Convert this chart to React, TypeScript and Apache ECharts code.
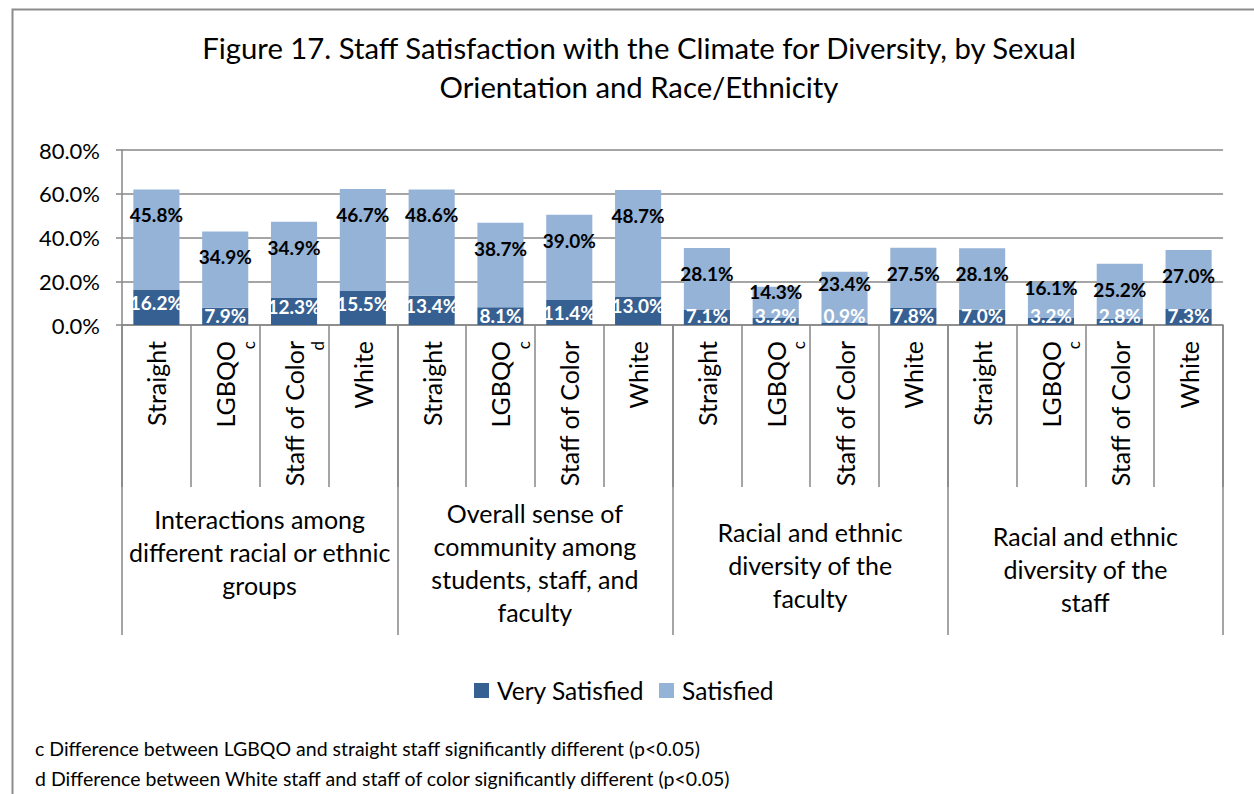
import React, { useEffect, useRef } from "react";
import * as echarts from "echarts";

const subgroups = [
  "Straight", "LGBQO", "Staff of Color", "White",
  "Straight", "LGBQO", "Staff of Color", "White",
  "Straight", "LGBQO", "Staff of Color", "White",
  "Straight", "LGBQO", "Staff of Color", "White",
];
const notes = ["", "c", "d", "", "", "c", "", "", "", "c", "", "", "", "c", "", ""];
const groups = [
  "Interactions among\ndifferent racial or ethnic\ngroups",
  "Overall sense of\ncommunity among\nstudents, staff, and\nfaculty",
  "Racial and ethnic\ndiversity of the\nfaculty",
  "Racial and ethnic\ndiversity of the\nstaff",
];
const verySatisfied = [16.2, 7.9, 12.3, 15.5, 13.4, 8.1, 11.4, 13.0, 7.1, 3.2, 0.9, 7.8, 7.0, 3.2, 2.8, 7.3];
const satisfied = [45.8, 34.9, 34.9, 46.7, 48.6, 38.7, 39.0, 48.7, 28.1, 14.3, 23.4, 27.5, 28.1, 16.1, 25.2, 27.0];
const seriesNames = ["Very Satisfied", "Satisfied"];
const titleText = "Figure 17. Staff Satisfaction with the Climate for Diversity, by Sexual\nOrientation and Race/Ethnicity";
const footnotes = [
  "c Difference between LGBQO and straight staff significantly different (p<0.05)",
  "d Difference between White staff and staff of color significantly different (p<0.05)",
];

const FONT = "Lato";
const GRAY = "#878787";
const DARK = "#376092";
const LIGHT = "#95B3D7";
// spacer style keys used to nudge each group label vertically like the original
const groupSpacer = ["after26", "after6", "", "before8"];

export default function App() {
  const ref = useRef<HTMLDivElement>(null);
  useEffect(() => {
    if (!ref.current) return;
    const chart = echarts.init(ref.current, null, { renderer: "svg" });
    const fmt = (p: any) => `${Number(p.value).toFixed(1)}%`;
    const darkData = verySatisfied.map((v) => {
      let label: any;
      if (v >= 12) label = { position: "inside", offset: [0, -5] };
      else if (v >= 8.5) label = { position: "inside" };
      else label = { position: "insideBottom", distance: 0 };
      return { value: v, label };
    });
    const lightData = satisfied.map((v) => {
      let distance = 16;
      if (v < 20) distance = -5;
      else if (v < 25) distance = 2;
      return { value: v, label: { position: "insideTop", distance } };
    });
    chart.setOption({
      animation: false,
      textStyle: { fontFamily: FONT },
      title: {
        text: titleText,
        left: 634,
        top: 23,
        textAlign: "center",
        textStyle: { fontFamily: FONT, fontSize: 29.3, fontWeight: "normal", color: "#000", lineHeight: 39 },
      },
      legend: {
        data: seriesNames,
        left: 469,
        top: 673,
        itemWidth: 15,
        itemHeight: 15,
        itemGap: 15,
        icon: "rect",
        textStyle: { fontFamily: FONT, fontSize: 24.5, color: "#000", padding: [0, 0, 0, 3] },
      },
      grid: { left: 122, right: 31, top: 150, bottom: 469, containLabel: false },
      xAxis: [
        {
          type: "category",
          data: subgroups,
          position: "bottom",
          axisLine: { show: true, lineStyle: { color: GRAY, width: 1.5 } },
          axisTick: { show: true, interval: 0, length: 162, lineStyle: { color: GRAY, width: 1.5 } },
          axisLabel: {
            interval: 0,
            rotate: 90,
            margin: 16,
            fontFamily: FONT,
            fontSize: 25,
            color: "#000",
            lineHeight: 30,
            formatter: (value: string, index: number) =>
              notes[index] ? `{e| }\n${value}\n{s|${notes[index]}}` : value,
            rich: {
              e: { fontSize: 10, lineHeight: 16 },
              s: { fontSize: 17, lineHeight: 16, fontFamily: FONT, color: "#000" },
            },
          },
        },
        {
          type: "category",
          data: groups,
          position: "bottom",
          offset: 0,
          axisLine: { show: false },
          axisTick: { show: true, interval: 0, length: 310, lineStyle: { color: GRAY, width: 1.5 } },
          axisLabel: {
            interval: 0,
            margin: 240,
            verticalAlign: "middle",
            fontFamily: FONT,
            fontSize: 25,
            lineHeight: 33,
            color: "#000",
            formatter: (value: string, index: number) => {
              const sp = groupSpacer[index];
              if (sp.startsWith("after")) return `${value}\n{${sp}| }`;
              if (sp.startsWith("before")) return `{${sp}| }\n${value}`;
              return value;
            },
            rich: {
              after26: { fontSize: 4, lineHeight: 26 },
              after6: { fontSize: 4, lineHeight: 6 },
              before8: { fontSize: 4, lineHeight: 8 },
            },
          },
        },
      ],
      yAxis: {
        type: "value",
        min: 0,
        max: 80,
        interval: 20,
        axisLine: { show: true, lineStyle: { color: GRAY, width: 1.5 } },
        axisTick: { show: true, length: 6, lineStyle: { color: GRAY, width: 1.5 } },
        splitLine: { show: true, lineStyle: { color: GRAY, width: 1.5 } },
        axisLabel: {
          margin: 22,
          fontFamily: FONT,
          fontSize: 22,
          color: "#000",
          formatter: (v: number) => `${v.toFixed(1)}%`,
        },
      },
      series: [
        {
          name: seriesNames[0],
          type: "bar",
          stack: "total",
          xAxisIndex: 0,
          barWidth: "67%",
          itemStyle: { color: DARK },
          label: { show: true, formatter: fmt, color: "#fff", fontWeight: "bold", fontSize: 19, fontFamily: FONT },
          data: darkData,
        },
        {
          name: seriesNames[1],
          type: "bar",
          stack: "total",
          xAxisIndex: 0,
          barWidth: "67%",
          itemStyle: { color: LIGHT },
          label: { show: true, formatter: fmt, color: "#000", fontWeight: "bold", fontSize: 19, fontFamily: FONT },
          data: lightData,
        },
      ],
      graphic: [
        {
          type: "rect",
          left: 10,
          top: 7,
          shape: { width: 1300, height: 900 },
          style: { fill: "none", stroke: "#8c8c8c", lineWidth: 2 },
          silent: true,
        },
        {
          type: "text",
          left: 35,
          top: 733,
          style: {
            text: footnotes.join("\n"),
            fontFamily: FONT,
            fontSize: 19.5,
            lineHeight: 30.5,
            fill: "#000",
          },
        },
      ],
    });
    return () => chart.dispose();
  }, []);
  return (
    <div
      ref={ref}
      style={{ position: "absolute", left: 0, top: 0, width: 1254, height: 794, background: "#fff" }}
    />
  );
}
